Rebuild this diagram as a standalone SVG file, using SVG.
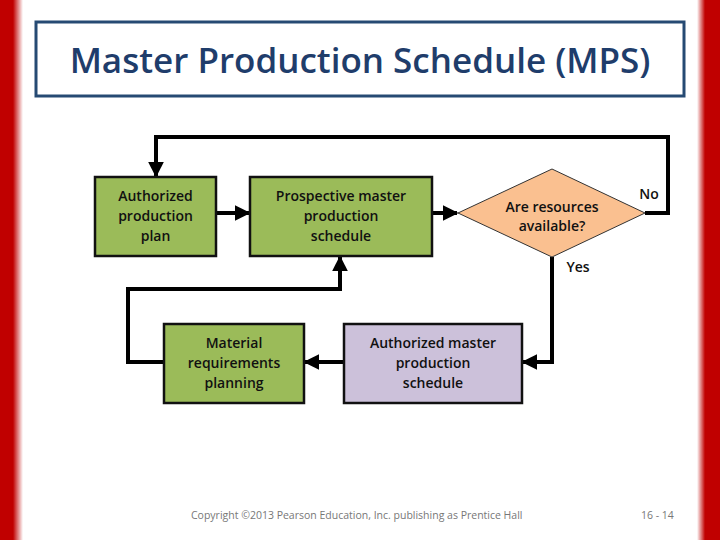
<svg xmlns="http://www.w3.org/2000/svg" width="720" height="540" viewBox="0 0 720 540">
<defs>
<linearGradient id="fadeL" x1="0" y1="0" x2="1" y2="0">
<stop offset="0" stop-color="#c00000"/><stop offset="1" stop-color="#c00000" stop-opacity="0"/>
</linearGradient>
<linearGradient id="fadeR" x1="1" y1="0" x2="0" y2="0">
<stop offset="0" stop-color="#c00000"/><stop offset="1" stop-color="#c00000" stop-opacity="0"/>
</linearGradient>
<marker id="arr" viewBox="0 0 10 10" refX="9" refY="5" markerWidth="4" markerHeight="4" orient="auto" markerUnits="strokeWidth">
<path d="M0,0 L10,5 L0,10 z" fill="#000"/>
</marker>
<style>
.box{stroke:#111;stroke-width:2.5}
.g{fill:#9bbb59}
.p{fill:#ccc1da}
.d{fill:#fac090;stroke:#333;stroke-width:1}
.t{font-family:"Open Sans","Liberation Sans",sans-serif;font-size:14px;font-weight:600;fill:#111;text-anchor:middle}
.c{fill:none;stroke:#000;stroke-width:4}
.f{font-family:"Open Sans","Liberation Sans",sans-serif;font-size:10.5px;fill:#777}
</style>
</defs>
<rect width="720" height="540" fill="#fff"/>
<rect x="0" y="0" width="13" height="540" fill="#c00000"/>
<rect x="13" y="0" width="10" height="540" fill="url(#fadeL)"/>
<rect x="705" y="0" width="15" height="540" fill="#c00000"/>
<rect x="697" y="0" width="8" height="540" fill="url(#fadeR)"/>

<g id="title">
<rect x="36" y="22" width="648" height="74" fill="#fff" stroke="#264a73" stroke-width="3"/>
<text x="360" y="73" text-anchor="middle" font-family="Open Sans, Liberation Sans, sans-serif" font-size="35" font-weight="600" fill="#1f3d6b">Master Production Schedule (MPS)</text>
</g>

<g id="connectors">
<path class="c" d="M216,213 H249" marker-end="url(#arr)"/>
<path class="c" d="M432,213 H457" marker-end="url(#arr)"/>
<path class="c" d="M645,213 H668 V137 H156 V176" marker-end="url(#arr)"/>
<path class="c" d="M552,257 V362 H523" marker-end="url(#arr)"/>
<path class="c" d="M344,362 H305" marker-end="url(#arr)"/>
<path class="c" d="M164,362 H128 V289 H340 V257" marker-end="url(#arr)"/>
</g>

<g id="n1">
<rect class="box g" x="95" y="177" width="121" height="79"/>
<text class="t" x="155.5" y="201">Authorized</text>
<text class="t" x="155.5" y="221">production</text>
<text class="t" x="155.5" y="241">plan</text>
</g>
<g id="n2">
<rect class="box g" x="250" y="177" width="182" height="79"/>
<text class="t" x="341" y="201">Prospective master</text>
<text class="t" x="341" y="221">production</text>
<text class="t" x="341" y="241">schedule</text>
</g>
<g id="n3">
<polygon class="d" points="458,213 552,169 645,213 552,257"/>
<text class="t" x="552" y="212">Are resources</text>
<text class="t" x="552" y="231">available?</text>
</g>
<g id="labels">
<text class="t" x="649" y="199">No</text>
<text class="t" x="578" y="272">Yes</text>
</g>
<g id="n4">
<rect class="box p" x="344" y="324" width="178" height="79"/>
<text class="t" x="433" y="348">Authorized master</text>
<text class="t" x="433" y="368">production</text>
<text class="t" x="433" y="388">schedule</text>
</g>
<g id="n5">
<rect class="box g" x="164" y="324" width="140" height="79"/>
<text class="t" x="234" y="348">Material</text>
<text class="t" x="234" y="368">requirements</text>
<text class="t" x="234" y="388">planning</text>
</g>
<g id="footer">
<text class="f" x="191" y="519">Copyright ©2013 Pearson Education, Inc. publishing as Prentice Hall</text>
<text class="f" x="641" y="519">16 - 14</text>
</g>
</svg>
